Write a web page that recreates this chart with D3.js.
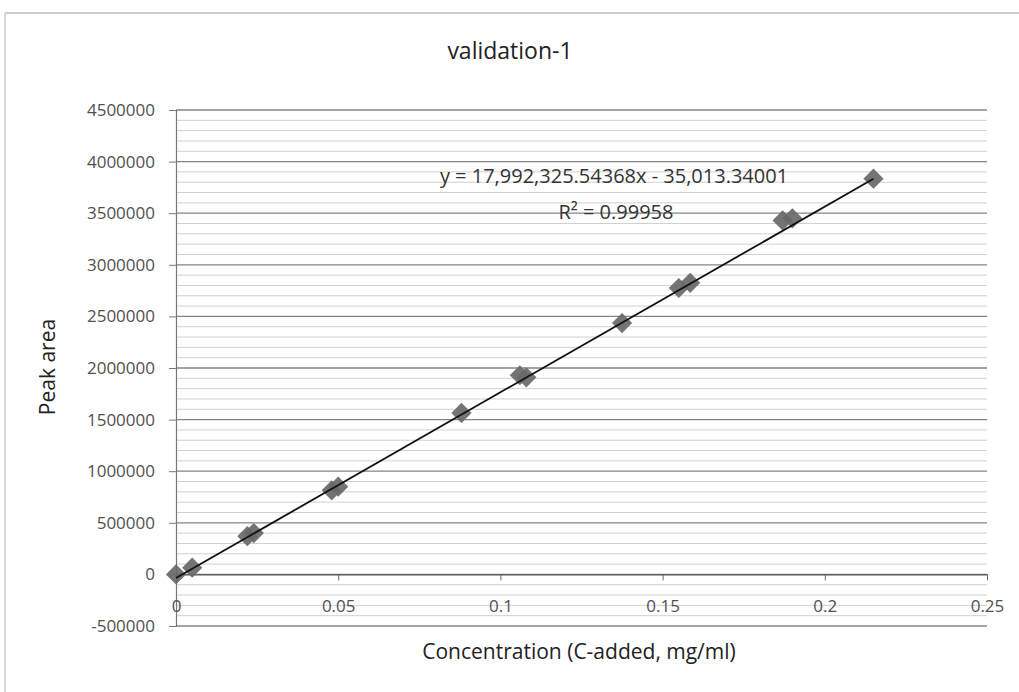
<!DOCTYPE html>
<html>
<head>
<meta charset="utf-8">
<script src="https://cdn.jsdelivr.net/npm/d3@7"></script>
<style>
  body { margin: 0; background: #fff; }
  svg { display: block; }
  text { font-family: "Open Sans", "Noto Sans", sans-serif; }
</style>
</head>
<body>
<svg id="chart" width="1019" height="692"></svg>
<script>
// ---- data ----
const concentration = [0, 0.005, 0.022, 0.024, 0.048, 0.050, 0.088, 0.106, 0.108, 0.1375, 0.155, 0.1585, 0.187, 0.190, 0.215];
const peakArea = [0, 65000, 370000, 400000, 815000, 850000, 1565000, 1930000, 1910000, 2435000, 2775000, 2825000, 3430000, 3450000, 3835000];
const trendSlope = 17992325.54368;
const trendIntercept = -35013.34001;
const trendRange = [0, 0.215];
const xTicks = [0, 0.05, 0.1, 0.15, 0.2, 0.25];
const xTickLabels = ["0", "0.05", "0.1", "0.15", "0.2", "0.25"];
const yTicks = [-500000, 0, 500000, 1000000, 1500000, 2000000, 2500000, 3000000, 3500000, 4000000, 4500000];
const yTickLabels = ["-500000", "0", "500000", "1000000", "1500000", "2000000", "2500000", "3000000", "3500000", "4000000", "4500000"];
const yMinorStep = 100000;
const titleText = "validation-1";
const xLabel = "Concentration (C-added, mg/ml)";
const yLabel = "Peak area";
const eqText = "y = 17,992,325.54368x - 35,013.34001";
const r2Text = "R\u00B2 = 0.99958";

// ---- layout ----
const svg = d3.select("#chart");
const L = 176, R = 987, T = 110, B = 626;
const x = d3.scaleLinear().domain([0, 0.25]).range([L, R]);
const y = d3.scaleLinear().domain([-500000, 4500000]).range([B, T]);

// chart border (scan-like)
svg.append("line").attr("x1", 5).attr("x2", 1019).attr("y1", 13).attr("y2", 13).attr("stroke", "#bbb").attr("stroke-width", 1.5);
svg.append("line").attr("x1", 5).attr("x2", 5).attr("y1", 13).attr("y2", 692).attr("stroke", "#ccc").attr("stroke-width", 1.5);

// minor gridlines
const minor = d3.range(-500000, 4500001, yMinorStep).filter(v => Math.abs(v % 500000) > 1);
svg.append("g").selectAll("line").data(minor).join("line")
  .attr("x1", L).attr("x2", R)
  .attr("y1", d => y(d)).attr("y2", d => y(d))
  .attr("stroke", "#d0d0d0").attr("stroke-width", 1);

// major gridlines
svg.append("g").selectAll("line").data(yTicks).join("line")
  .attr("x1", L).attr("x2", R)
  .attr("y1", d => y(d)).attr("y2", d => y(d))
  .attr("stroke", "#858585").attr("stroke-width", 1.3);

// y axis
const yAxis = d3.axisLeft(y).tickValues(yTicks).tickFormat((d, i) => yTickLabels[i]).tickSize(7).tickPadding(14);
const gy = svg.append("g").attr("transform", `translate(${L},0)`).call(yAxis);
gy.select(".domain").attr("stroke", "#777").attr("stroke-width", 1.2);
gy.selectAll(".tick line").attr("stroke", "#777");
gy.selectAll("text").attr("fill", "#505050").style("font-size", "17px");

// x axis at y=0
const xAxis = d3.axisBottom(x).tickValues(xTicks).tickFormat((d, i) => xTickLabels[i]).tickSize(6).tickSizeOuter(0);
const gx = svg.append("g").attr("transform", `translate(0,${y(0)})`).call(xAxis);
gx.select(".domain").attr("stroke", "#555").attr("stroke-width", 1.3);
gx.selectAll(".tick line").attr("stroke", "#666");
gx.selectAll("text").attr("fill", "#505050").style("font-size", "17px").attr("y", 26);

// points (diamonds)
const pts = concentration.map((c, i) => ({ c, v: peakArea[i] }));
svg.append("g").selectAll("path").data(pts).join("path")
  .attr("transform", d => `translate(${x(d.c)},${y(d.v)})`)
  .attr("d", d3.symbol(d3.symbolDiamond2, 260)())
  .attr("fill", "#686868").attr("opacity", 0.92);

// trendline over points
svg.append("line")
  .attr("x1", x(trendRange[0])).attr("y1", y(trendSlope * trendRange[0] + trendIntercept))
  .attr("x2", x(trendRange[1])).attr("y2", y(trendSlope * trendRange[1] + trendIntercept))
  .attr("stroke", "#111").attr("stroke-width", 1.8);

// equation labels
svg.append("text").attr("x", 614).attr("y", 183).attr("text-anchor", "middle")
  .attr("fill", "#333").style("font-size", "20px").text(eqText);
svg.append("text").attr("x", 616).attr("y", 219).attr("text-anchor", "middle")
  .attr("fill", "#333").style("font-size", "20px").text(r2Text);

// title
svg.append("text").attr("x", 510).attr("y", 59).attr("text-anchor", "middle")
  .attr("fill", "#222").style("font-size", "23px").text(titleText);

// axis titles
svg.append("text").attr("x", 579).attr("y", 659).attr("text-anchor", "middle")
  .attr("fill", "#222").style("font-size", "21px").text(xLabel);
svg.append("text").attr("transform", "translate(55,367) rotate(-90)").attr("text-anchor", "middle")
  .attr("fill", "#222").style("font-size", "21px").text(yLabel);
</script>
</body>
</html>
